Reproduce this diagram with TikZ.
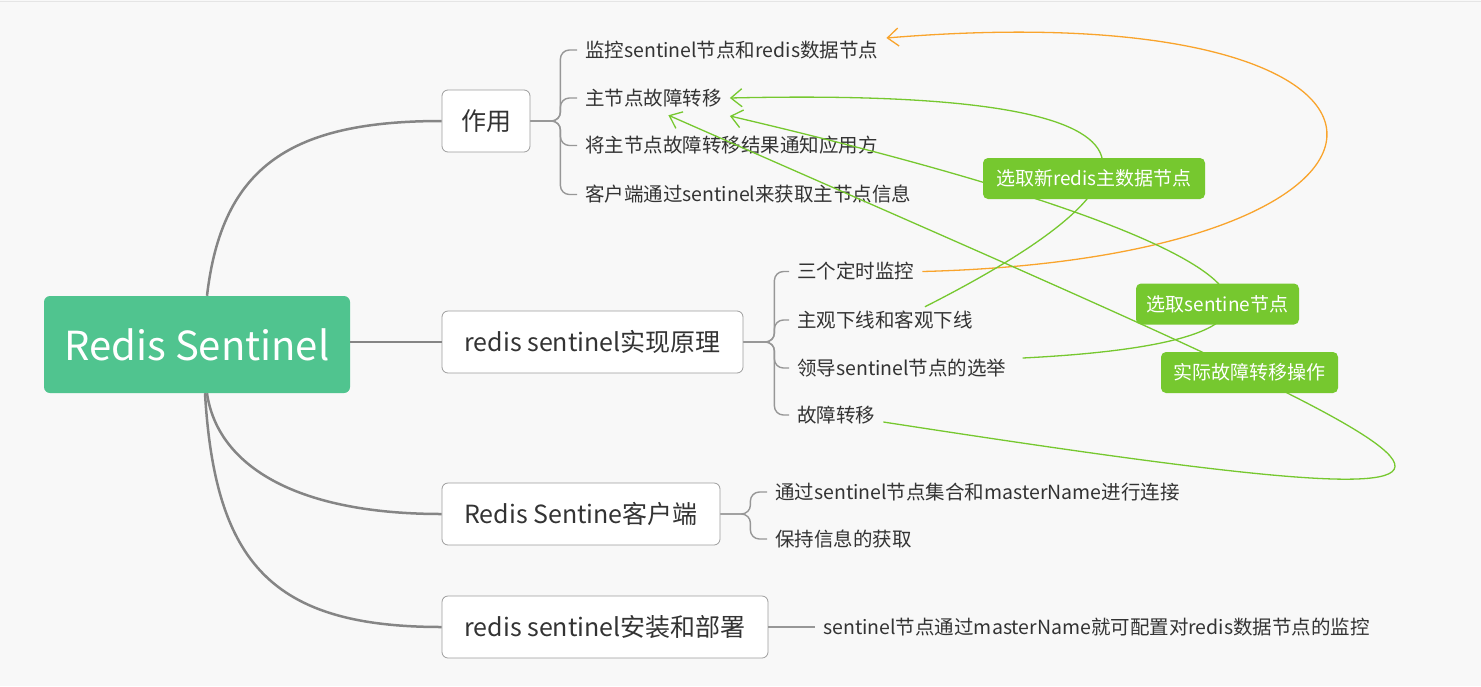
\documentclass[tikz,border=0pt]{standalone}
\usepackage{fontspec}
\setmainfont{Noto Sans CJK SC}
\usetikzlibrary{arrows.meta}
\definecolor{rootgreen}{HTML}{50C48F}
\definecolor{relgreen}{HTML}{76C82F}
\definecolor{relorange}{HTML}{F9A42C}
\definecolor{linegray}{HTML}{858585}
\definecolor{textgray}{HTML}{333333}
\definecolor{bggray}{HTML}{F8F8F8}

\begin{document}
\begin{tikzpicture}[x=1pt, y=-1pt,
  root/.style={fill=rootgreen, rounded corners=6pt, text=white, font=\fontsize{40}{48}\selectfont, minimum width=306pt, minimum height=97pt, inner sep=0pt},
  topic/.style={draw=linegray!80, line width=0.8pt, fill=white, rounded corners=6pt, text=textgray, font=\fontsize{25}{30}\selectfont, minimum height=62pt, inner sep=0pt},
  leaf/.style={text=textgray, font=\fontsize{19.5}{23}\selectfont, anchor=west, inner xsep=8pt, inner ysep=4pt},
  rel/.style={fill=relgreen, rounded corners=5pt, text=white, font=\fontsize{19}{23}\selectfont, minimum height=41pt, inner sep=0pt},
  trunk/.style={draw=linegray, line width=2.5pt},
  brace/.style={draw=linegray!85, line width=1.4pt, rounded corners=9pt},
  link/.style={draw=relgreen, line width=1.3pt, -{Straight Barb[length=11pt,width=18pt]}},
]
\path[use as bounding box, fill=bggray] (0,0) rectangle (1481,686);
\draw[black!10] (0,1) -- (1481,1);

\node[root] (P_0_0) at (197,344.5) {Redis Sentinel};
\node[topic, minimum width=88pt] (P_1_0) at (486,121) {作用};
\node[topic, minimum width=301pt] (P_1_1) at (592.5,342) {redis sentinel实现原理};
\node[topic, minimum width=278pt] (P_1_2) at (581,514) {Redis Sentine客户端};
\node[topic, minimum width=326pt] (P_1_3) at (605,627) {redis sentinel安装和部署};
\draw[trunk] ([xshift=10pt]P_0_0.north) .. controls +(15,-130) and +(-150,0) .. (P_1_0.west);
\draw[trunk] (P_0_0.east |- P_1_1.west) -- (P_1_1.west);
\draw[trunk] ([xshift=10pt]P_0_0.south) .. controls +(10,70) and +(-150,0) .. (P_1_2.west);
\draw[trunk] ([xshift=8pt]P_0_0.south) .. controls +(10,170) and +(-170,0) .. (P_1_3.west);

\node[leaf] (P_2_0) at (577,50) {监控sentinel节点和redis数据节点};
\node[leaf] (P_2_1) at (577,98) {主节点故障转移};
\node[leaf] (P_2_2) at (577,145.5) {将主节点故障转移结果通知应用方};
\node[leaf] (P_2_3) at (577,194.5) {客户端通过sentinel来获取主节点信息};
\foreach \k in {0,...,3}
  \draw[brace] (P_1_0.east) -- ++(30,0) |- (P_2_\k.west);

\node[leaf] (P_2_4) at (789,271.5) {三个定时监控};
\node[leaf] (P_2_5) at (789,320) {主观下线和客观下线};
\node[leaf] (P_2_6) at (789,368) {领导sentinel节点的选举};
\node[leaf] (P_2_7) at (789,415) {故障转移};
\foreach \k in {4,...,7}
  \draw[brace] (P_1_1.east) -- ++(31,0) |- (P_2_\k.west);

\node[leaf] (P_2_8) at (767,492) {通过sentinel节点集合和masterName进行连接};
\node[leaf] (P_2_9) at (767,539) {保持信息的获取};
\foreach \k in {8,9}
  \draw[brace] (P_1_2.east) -- ++(30,0) |- (P_2_\k.west);

\node[leaf] (P_2_10) at (815,627) {sentinel节点通过masterName就可配置对redis数据节点的监控};
\draw[brace] (P_1_3.east) -- (P_2_10.west);

\draw[link, draw=relorange] (P_2_4.east) .. controls +(545,-14) and +(581,-48) .. ([yshift=12pt]P_2_0.east);
\draw[link] ([xshift=40pt]P_2_5.north) .. controls +(335,-170) and +(350,-8) .. (P_2_1.east);
\draw[link] ([xshift=8pt,yshift=10pt]P_2_6.east) .. controls +(362,-18) and +(530,124) .. ([yshift=-18pt]P_2_1.east);
\draw[link] ([yshift=-7pt]P_2_7.east) .. controls +(795,123) and +(832,366) .. ([xshift=15pt,yshift=-4pt]P_2_1.south);

\node[rel, minimum width=222pt] (L_0) at (1094,178.5) {选取新redis主数据节点};
\node[rel, minimum width=163pt] (L_1) at (1217.5,304) {选取sentine节点};
\node[rel, minimum width=177pt] (L_2) at (1249.5,372.5) {实际故障转移操作};
\end{tikzpicture}
\end{document}
